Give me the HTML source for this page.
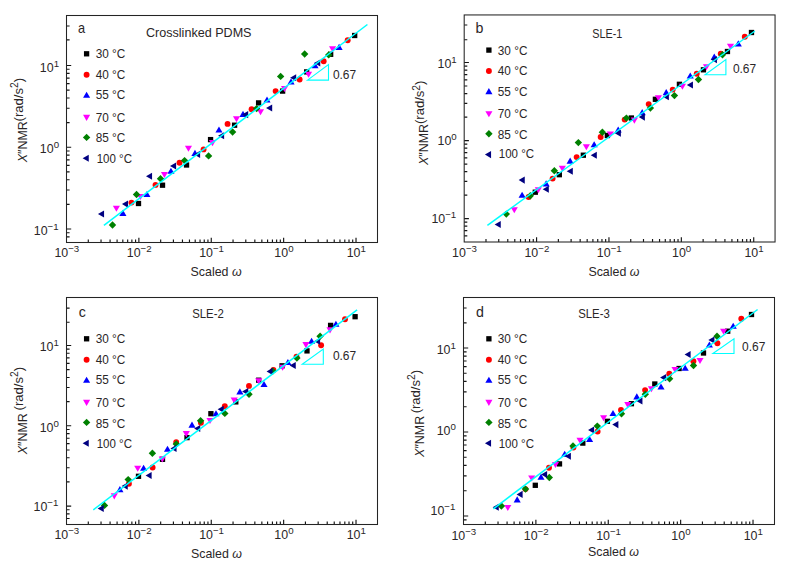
<!DOCTYPE html>
<html lang="en"><head><meta charset="utf-8"><title>Figure</title>
<style>
html,body{margin:0;padding:0;background:#fff}
svg{display:block}
text{font-family:"Liberation Sans", sans-serif;fill:#2a2627}
.t{font-size:12.8px}
.tk{font-size:12.4px}
.sp{font-size:9.7px}
.sp2{font-size:10px}
.pl{font-size:14.2px}
.it{font-style:italic}
.frame{fill:none;stroke:#242424;stroke-width:1.05}
.tick{fill:none;stroke:#151515;stroke-width:1.15}
.fit{fill:none;stroke:#00ffff;stroke-width:1.5}
.tri{fill:none;stroke:#00ffff;stroke-width:1.1}
</style></head><body>
<svg width="794" height="564" viewBox="0 0 794 564">
<rect width="794" height="564" fill="#fff"/>
<g id="panel-a">
<path class="tick" d="M88.29 242.5v-3.1M101.03 242.5v-3.1M110.08 242.5v-3.1M117.09 242.5v-3.1M122.82 242.5v-3.1M127.67 242.5v-3.1M131.87 242.5v-3.1M135.57 242.5v-3.1M138.88 242.5v-4.7M160.67 242.5v-3.1M173.41 242.5v-3.1M182.46 242.5v-3.1M189.47 242.5v-3.1M195.2 242.5v-3.1M200.05 242.5v-3.1M204.25 242.5v-3.1M207.95 242.5v-3.1M211.26 242.5v-4.7M233.05 242.5v-3.1M245.79 242.5v-3.1M254.84 242.5v-3.1M261.85 242.5v-3.1M267.58 242.5v-3.1M272.43 242.5v-3.1M276.63 242.5v-3.1M280.33 242.5v-3.1M283.64 242.5v-4.7M305.43 242.5v-3.1M318.17 242.5v-3.1M327.22 242.5v-3.1M334.23 242.5v-3.1M339.96 242.5v-3.1M344.81 242.5v-3.1M349.01 242.5v-3.1M352.71 242.5v-3.1M356.02 242.5v-4.7M66.5 236.92h3.1M66.5 232.74h3.1M66.5 229h4.7M66.5 204.39h3.1M66.5 190h3.1M66.5 179.78h3.1M66.5 171.86h3.1M66.5 165.39h3.1M66.5 159.91h3.1M66.5 155.17h3.1M66.5 150.99h3.1M66.5 147.25h4.7M66.5 122.64h3.1M66.5 108.25h3.1M66.5 98.03h3.1M66.5 90.11h3.1M66.5 83.64h3.1M66.5 78.16h3.1M66.5 73.42h3.1M66.5 69.24h3.1M66.5 65.5h4.7M66.5 39.9h3.1M66.5 26h3.1"/>
<rect x="135.85" y="200.85" width="5.3" height="5.3" fill="#000000"/>
<rect x="159.87" y="182.55" width="5.3" height="5.3" fill="#000000"/>
<rect x="183.89" y="162.35" width="5.3" height="5.3" fill="#000000"/>
<rect x="207.91" y="136.95" width="5.3" height="5.3" fill="#000000"/>
<rect x="231.93" y="122.55" width="5.3" height="5.3" fill="#000000"/>
<rect x="255.95" y="100.25" width="5.3" height="5.3" fill="#000000"/>
<rect x="279.97" y="88.45" width="5.3" height="5.3" fill="#000000"/>
<rect x="303.99" y="69.25" width="5.3" height="5.3" fill="#000000"/>
<rect x="328.01" y="51.65" width="5.3" height="5.3" fill="#000000"/>
<rect x="352.03" y="32.85" width="5.3" height="5.3" fill="#000000"/>
<circle cx="131.5" cy="202.6" r="2.95" fill="#ff0000"/>
<circle cx="155.52" cy="184.9" r="2.95" fill="#ff0000"/>
<circle cx="179.54" cy="162.7" r="2.95" fill="#ff0000"/>
<circle cx="203.56" cy="149.4" r="2.95" fill="#ff0000"/>
<circle cx="227.58" cy="123.9" r="2.95" fill="#ff0000"/>
<circle cx="251.6" cy="109.3" r="2.95" fill="#ff0000"/>
<circle cx="275.62" cy="91.1" r="2.95" fill="#ff0000"/>
<circle cx="299.64" cy="79.5" r="2.95" fill="#ff0000"/>
<circle cx="323.66" cy="61.3" r="2.95" fill="#ff0000"/>
<circle cx="347.68" cy="40.3" r="2.95" fill="#ff0000"/>
<path d="M122.9 209.85l3.55 6.1h-7.1z" fill="#0000ff"/>
<path d="M146.92 190.95l3.55 6.1h-7.1z" fill="#0000ff"/>
<path d="M170.94 167.75l3.55 6.1h-7.1z" fill="#0000ff"/>
<path d="M194.96 149.85l3.55 6.1h-7.1z" fill="#0000ff"/>
<path d="M218.98 126.45l3.55 6.1h-7.1z" fill="#0000ff"/>
<path d="M243 110.85l3.55 6.1h-7.1z" fill="#0000ff"/>
<path d="M267.02 96.45l3.55 6.1h-7.1z" fill="#0000ff"/>
<path d="M291.04 78.35l3.55 6.1h-7.1z" fill="#0000ff"/>
<path d="M315.06 62.25l3.55 6.1h-7.1z" fill="#0000ff"/>
<path d="M339.08 43.85l3.55 6.1h-7.1z" fill="#0000ff"/>
<path d="M116.4 211.85l3.55 -6.1h-7.1z" fill="#ff00ff"/>
<path d="M140.42 200.05l3.55 -6.1h-7.1z" fill="#ff00ff"/>
<path d="M164.44 178.05l3.55 -6.1h-7.1z" fill="#ff00ff"/>
<path d="M188.46 151.85l3.55 -6.1h-7.1z" fill="#ff00ff"/>
<path d="M212.48 146.15l3.55 -6.1h-7.1z" fill="#ff00ff"/>
<path d="M236.5 122.35l3.55 -6.1h-7.1z" fill="#ff00ff"/>
<path d="M260.52 115.25l3.55 -6.1h-7.1z" fill="#ff00ff"/>
<path d="M284.54 92.05l3.55 -6.1h-7.1z" fill="#ff00ff"/>
<path d="M308.56 77.85l3.55 -6.1h-7.1z" fill="#ff00ff"/>
<path d="M332.58 52.45l3.55 -6.1h-7.1z" fill="#ff00ff"/>
<path d="M112.5 221.3l3.7 3.7l-3.7 3.7l-3.7 -3.7z" fill="#008000"/>
<path d="M136.52 190.8l3.7 3.7l-3.7 3.7l-3.7 -3.7z" fill="#008000"/>
<path d="M160.54 175.1l3.7 3.7l-3.7 3.7l-3.7 -3.7z" fill="#008000"/>
<path d="M184.56 156.9l3.7 3.7l-3.7 3.7l-3.7 -3.7z" fill="#008000"/>
<path d="M208.58 152.2l3.7 3.7l-3.7 3.7l-3.7 -3.7z" fill="#008000"/>
<path d="M232.6 128.3l3.7 3.7l-3.7 3.7l-3.7 -3.7z" fill="#008000"/>
<path d="M256.62 104.9l3.7 3.7l-3.7 3.7l-3.7 -3.7z" fill="#008000"/>
<path d="M280.64 72.7l3.7 3.7l-3.7 3.7l-3.7 -3.7z" fill="#008000"/>
<path d="M304.66 50.3l3.7 3.7l-3.7 3.7l-3.7 -3.7z" fill="#008000"/>
<path d="M328.68 51.2l3.7 3.7l-3.7 3.7l-3.7 -3.7z" fill="#008000"/>
<path d="M97.95 214l6.1 -3.55v7.1z" fill="#000080"/>
<path d="M121.97 204.1l6.1 -3.55v7.1z" fill="#000080"/>
<path d="M145.99 176.3l6.1 -3.55v7.1z" fill="#000080"/>
<path d="M170.01 166l6.1 -3.55v7.1z" fill="#000080"/>
<path d="M194.03 154.4l6.1 -3.55v7.1z" fill="#000080"/>
<path d="M218.05 135.8l6.1 -3.55v7.1z" fill="#000080"/>
<path d="M242.07 114.6l6.1 -3.55v7.1z" fill="#000080"/>
<path d="M266.09 108l6.1 -3.55v7.1z" fill="#000080"/>
<path d="M290.11 77.8l6.1 -3.55v7.1z" fill="#000080"/>
<path d="M314.13 63l6.1 -3.55v7.1z" fill="#000080"/>
<path class="fit" d="M103.9 225.4L367.4 24.5"/>
<path class="tri" d="M307.5 80.1H328.5V64.6Z"/>
<text x="332.9" y="79" class="t" textLength="23.3" lengthAdjust="spacingAndGlyphs">0.67</text>
<rect class="frame" x="66.5" y="15.5" width="311" height="227"/>
<text x="66.8" y="257" text-anchor="middle" class="tk">10<tspan class="sp" dy="-5.0">−3</tspan></text>
<text x="139.18" y="257" text-anchor="middle" class="tk">10<tspan class="sp" dy="-5.0">−2</tspan></text>
<text x="211.56" y="257" text-anchor="middle" class="tk">10<tspan class="sp" dy="-5.0">−1</tspan></text>
<text x="283.94" y="257" text-anchor="middle" class="tk">10<tspan class="sp" dy="-5.0">0</tspan></text>
<text x="356.32" y="257" text-anchor="middle" class="tk">10<tspan class="sp" dy="-5.0">1</tspan></text>
<text x="39.85" y="71.5" text-anchor="start" class="tk">10<tspan class="sp" dy="-5.0">1</tspan></text>
<text x="39.85" y="152.7" text-anchor="start" class="tk">10<tspan class="sp" dy="-5.0">0</tspan></text>
<text x="33.75" y="235.2" text-anchor="start" class="tk">10<tspan class="sp" dy="-5.0">−1</tspan></text>
<text x="78" y="33.2" class="pl" textLength="7.1" lengthAdjust="spacingAndGlyphs">a</text>
<text x="146" y="37.1" class="t" textLength="105.5" lengthAdjust="spacingAndGlyphs">Crosslinked PDMS</text>
<rect x="83.95" y="51.15" width="5.3" height="5.3" fill="#000000"/>
<text x="95.7" y="58.1" class="t" textLength="29.6" lengthAdjust="spacingAndGlyphs">30 °C</text>
<circle cx="86.6" cy="74.7" r="2.95" fill="#ff0000"/>
<text x="95.7" y="79.3" class="t" textLength="29.6" lengthAdjust="spacingAndGlyphs">40 °C</text>
<path d="M86.6 91.75l3.55 6.1h-7.1z" fill="#0000ff"/>
<text x="95.7" y="99.4" class="t" textLength="29.6" lengthAdjust="spacingAndGlyphs">55 °C</text>
<path d="M86.6 120.95l3.55 -6.1h-7.1z" fill="#ff00ff"/>
<text x="95.7" y="121.6" class="t" textLength="29.6" lengthAdjust="spacingAndGlyphs">70 °C</text>
<path d="M86.6 133.7l3.7 3.7l-3.7 3.7l-3.7 -3.7z" fill="#008000"/>
<text x="95.7" y="142.3" class="t" textLength="29.6" lengthAdjust="spacingAndGlyphs">85 °C</text>
<path d="M82.65 158.3l6.1 -3.55v7.1z" fill="#000080"/>
<text x="96.7" y="163.1" class="t" textLength="35.3" lengthAdjust="spacingAndGlyphs">100 °C</text>
<text x="190.6" y="276.2" class="t" textLength="51" lengthAdjust="spacingAndGlyphs">Scaled <tspan class="it">ω</tspan></text>
<text transform="translate(26.5 162.3) rotate(-90)" class="t" textLength="41.15" lengthAdjust="spacingAndGlyphs"><tspan class="it">X</tspan>″NMR</text>
<text transform="translate(22.7 121.4) rotate(-90)" class="t" textLength="43.4" lengthAdjust="spacingAndGlyphs">(rad/s<tspan class="sp2" dy="-4.3">2</tspan><tspan dy="4.3">)</tspan></text>
</g>
<g id="panel-b">
<path class="tick" d="M485.99 242v-3.1M498.73 242v-3.1M507.78 242v-3.1M514.79 242v-3.1M520.52 242v-3.1M525.37 242v-3.1M529.57 242v-3.1M533.27 242v-3.1M536.58 242v-4.7M558.37 242v-3.1M571.11 242v-3.1M580.16 242v-3.1M587.17 242v-3.1M592.9 242v-3.1M597.75 242v-3.1M601.95 242v-3.1M605.65 242v-3.1M608.96 242v-4.7M630.75 242v-3.1M643.49 242v-3.1M652.54 242v-3.1M659.55 242v-3.1M665.28 242v-3.1M670.13 242v-3.1M674.33 242v-3.1M678.03 242v-3.1M681.34 242v-4.7M703.13 242v-3.1M715.87 242v-3.1M724.92 242v-3.1M731.93 242v-3.1M737.66 242v-3.1M742.51 242v-3.1M746.71 242v-3.1M750.41 242v-3.1M753.72 242v-4.7M464.2 235.92h3.1M464.2 230.69h3.1M464.2 226.16h3.1M464.2 222.17h3.1M464.2 218.6h4.7M464.2 195.1h3.1M464.2 181.36h3.1M464.2 171.61h3.1M464.2 164.05h3.1M464.2 157.87h3.1M464.2 152.64h3.1M464.2 148.11h3.1M464.2 144.12h3.1M464.2 140.55h4.7M464.2 117.05h3.1M464.2 103.31h3.1M464.2 93.56h3.1M464.2 86h3.1M464.2 79.82h3.1M464.2 74.59h3.1M464.2 70.06h3.1M464.2 66.07h3.1M464.2 62.5h4.7M464.2 39.75h3.1M464.2 25h3.1"/>
<rect x="532.65" y="189.55" width="5.3" height="5.3" fill="#000000"/>
<rect x="556.67" y="172.05" width="5.3" height="5.3" fill="#000000"/>
<rect x="580.69" y="152.55" width="5.3" height="5.3" fill="#000000"/>
<rect x="604.71" y="132.85" width="5.3" height="5.3" fill="#000000"/>
<rect x="628.73" y="115.35" width="5.3" height="5.3" fill="#000000"/>
<rect x="652.75" y="96.65" width="5.3" height="5.3" fill="#000000"/>
<rect x="676.77" y="81.65" width="5.3" height="5.3" fill="#000000"/>
<rect x="700.79" y="67.15" width="5.3" height="5.3" fill="#000000"/>
<rect x="724.81" y="48.85" width="5.3" height="5.3" fill="#000000"/>
<rect x="748.83" y="29.85" width="5.3" height="5.3" fill="#000000"/>
<circle cx="528.6" cy="197" r="2.95" fill="#ff0000"/>
<circle cx="552.62" cy="178.6" r="2.95" fill="#ff0000"/>
<circle cx="576.64" cy="157.1" r="2.95" fill="#ff0000"/>
<circle cx="600.66" cy="137" r="2.95" fill="#ff0000"/>
<circle cx="624.68" cy="119.6" r="2.95" fill="#ff0000"/>
<circle cx="648.7" cy="104.1" r="2.95" fill="#ff0000"/>
<circle cx="672.72" cy="89.6" r="2.95" fill="#ff0000"/>
<circle cx="696.74" cy="73.7" r="2.95" fill="#ff0000"/>
<circle cx="720.76" cy="53.8" r="2.95" fill="#ff0000"/>
<circle cx="744.78" cy="36.7" r="2.95" fill="#ff0000"/>
<path d="M522.1 191.75l3.55 6.1h-7.1z" fill="#0000ff"/>
<path d="M546.12 180.35l3.55 6.1h-7.1z" fill="#0000ff"/>
<path d="M570.14 157.55l3.55 6.1h-7.1z" fill="#0000ff"/>
<path d="M594.16 141.25l3.55 6.1h-7.1z" fill="#0000ff"/>
<path d="M618.18 126.45l3.55 6.1h-7.1z" fill="#0000ff"/>
<path d="M642.2 109.05l3.55 6.1h-7.1z" fill="#0000ff"/>
<path d="M666.22 89.05l3.55 6.1h-7.1z" fill="#0000ff"/>
<path d="M690.24 72.45l3.55 6.1h-7.1z" fill="#0000ff"/>
<path d="M714.26 53.55l3.55 6.1h-7.1z" fill="#0000ff"/>
<path d="M738.28 40.35l3.55 6.1h-7.1z" fill="#0000ff"/>
<path d="M514.3 213.25l3.55 -6.1h-7.1z" fill="#ff00ff"/>
<path d="M538.32 193.25l3.55 -6.1h-7.1z" fill="#ff00ff"/>
<path d="M562.34 171.85l3.55 -6.1h-7.1z" fill="#ff00ff"/>
<path d="M586.36 150.35l3.55 -6.1h-7.1z" fill="#ff00ff"/>
<path d="M610.38 137.55l3.55 -6.1h-7.1z" fill="#ff00ff"/>
<path d="M634.4 123.65l3.55 -6.1h-7.1z" fill="#ff00ff"/>
<path d="M658.42 101.25l3.55 -6.1h-7.1z" fill="#ff00ff"/>
<path d="M682.44 89.85l3.55 -6.1h-7.1z" fill="#ff00ff"/>
<path d="M706.46 70.25l3.55 -6.1h-7.1z" fill="#ff00ff"/>
<path d="M730.48 49.75l3.55 -6.1h-7.1z" fill="#ff00ff"/>
<path d="M506.3 210.4l3.7 3.7l-3.7 3.7l-3.7 -3.7z" fill="#008000"/>
<path d="M530.32 192.1l3.7 3.7l-3.7 3.7l-3.7 -3.7z" fill="#008000"/>
<path d="M554.34 167.1l3.7 3.7l-3.7 3.7l-3.7 -3.7z" fill="#008000"/>
<path d="M578.36 138.9l3.7 3.7l-3.7 3.7l-3.7 -3.7z" fill="#008000"/>
<path d="M602.38 128.5l3.7 3.7l-3.7 3.7l-3.7 -3.7z" fill="#008000"/>
<path d="M626.4 114.4l3.7 3.7l-3.7 3.7l-3.7 -3.7z" fill="#008000"/>
<path d="M650.42 104.4l3.7 3.7l-3.7 3.7l-3.7 -3.7z" fill="#008000"/>
<path d="M674.44 91.9l3.7 3.7l-3.7 3.7l-3.7 -3.7z" fill="#008000"/>
<path d="M698.46 75.8l3.7 3.7l-3.7 3.7l-3.7 -3.7z" fill="#008000"/>
<path d="M722.48 51.1l3.7 3.7l-3.7 3.7l-3.7 -3.7z" fill="#008000"/>
<path d="M494.65 224.5l6.1 -3.55v7.1z" fill="#000080"/>
<path d="M518.67 180.1l6.1 -3.55v7.1z" fill="#000080"/>
<path d="M542.69 189.2l6.1 -3.55v7.1z" fill="#000080"/>
<path d="M566.71 171.3l6.1 -3.55v7.1z" fill="#000080"/>
<path d="M590.73 155.2l6.1 -3.55v7.1z" fill="#000080"/>
<path d="M614.75 133.2l6.1 -3.55v7.1z" fill="#000080"/>
<path d="M638.77 117.1l6.1 -3.55v7.1z" fill="#000080"/>
<path d="M662.79 96.7l6.1 -3.55v7.1z" fill="#000080"/>
<path d="M686.81 85l6.1 -3.55v7.1z" fill="#000080"/>
<path d="M710.83 59.6l6.1 -3.55v7.1z" fill="#000080"/>
<path class="fit" d="M487.4 225.4L754.9 31"/>
<path class="tri" d="M705 74.7H725.9V59.5Z"/>
<text x="732.9" y="72.5" class="t" textLength="23.3" lengthAdjust="spacingAndGlyphs">0.67</text>
<rect class="frame" x="464.2" y="14.95" width="310.85" height="227.05"/>
<text x="464.5" y="257" text-anchor="middle" class="tk">10<tspan class="sp" dy="-5.0">−3</tspan></text>
<text x="536.88" y="257" text-anchor="middle" class="tk">10<tspan class="sp" dy="-5.0">−2</tspan></text>
<text x="609.26" y="257" text-anchor="middle" class="tk">10<tspan class="sp" dy="-5.0">−1</tspan></text>
<text x="681.64" y="257" text-anchor="middle" class="tk">10<tspan class="sp" dy="-5.0">0</tspan></text>
<text x="754.02" y="257" text-anchor="middle" class="tk">10<tspan class="sp" dy="-5.0">1</tspan></text>
<text x="437.5" y="67.5" text-anchor="start" class="tk">10<tspan class="sp" dy="-5.0">1</tspan></text>
<text x="437.5" y="145.35" text-anchor="start" class="tk">10<tspan class="sp" dy="-5.0">0</tspan></text>
<text x="431.4" y="223.2" text-anchor="start" class="tk">10<tspan class="sp" dy="-5.0">−1</tspan></text>
<text x="475.5" y="32.7" class="pl">b</text>
<text x="592.2" y="37.7" class="t" textLength="30.1" lengthAdjust="spacingAndGlyphs">SLE-1</text>
<rect x="486.25" y="47.45" width="5.3" height="5.3" fill="#000000"/>
<text x="497.8" y="54.6" class="t" textLength="29.6" lengthAdjust="spacingAndGlyphs">30 °C</text>
<circle cx="488.9" cy="71" r="2.95" fill="#ff0000"/>
<text x="497.8" y="75.4" class="t" textLength="29.6" lengthAdjust="spacingAndGlyphs">40 °C</text>
<path d="M488.9 88.05l3.55 6.1h-7.1z" fill="#0000ff"/>
<text x="497.8" y="96.1" class="t" textLength="29.6" lengthAdjust="spacingAndGlyphs">55 °C</text>
<path d="M488.9 117.25l3.55 -6.1h-7.1z" fill="#ff00ff"/>
<text x="497.8" y="118.2" class="t" textLength="29.6" lengthAdjust="spacingAndGlyphs">70 °C</text>
<path d="M488.9 130l3.7 3.7l-3.7 3.7l-3.7 -3.7z" fill="#008000"/>
<text x="497.8" y="139.4" class="t" textLength="29.6" lengthAdjust="spacingAndGlyphs">85 °C</text>
<path d="M484.95 154.6l6.1 -3.55v7.1z" fill="#000080"/>
<text x="498.8" y="157.6" class="t" textLength="35.3" lengthAdjust="spacingAndGlyphs">100 °C</text>
<text x="588.4" y="276" class="t" textLength="51" lengthAdjust="spacingAndGlyphs">Scaled <tspan class="it">ω</tspan></text>
<text transform="translate(427.5 165.1) rotate(-90)" class="t" textLength="41.15" lengthAdjust="spacingAndGlyphs"><tspan class="it">X</tspan>″NMR</text>
<text transform="translate(423.8 124) rotate(-90)" class="t" textLength="43.4" lengthAdjust="spacingAndGlyphs">(rad/s<tspan class="sp2" dy="-4.3">2</tspan><tspan dy="4.3">)</tspan></text>
</g>
<g id="panel-c">
<path class="tick" d="M88.29 524.5v-3.1M101.03 524.5v-3.1M110.08 524.5v-3.1M117.09 524.5v-3.1M122.82 524.5v-3.1M127.67 524.5v-3.1M131.87 524.5v-3.1M135.57 524.5v-3.1M138.88 524.5v-4.7M160.67 524.5v-3.1M173.41 524.5v-3.1M182.46 524.5v-3.1M189.47 524.5v-3.1M195.2 524.5v-3.1M200.05 524.5v-3.1M204.25 524.5v-3.1M207.95 524.5v-3.1M211.26 524.5v-4.7M233.05 524.5v-3.1M245.79 524.5v-3.1M254.84 524.5v-3.1M261.85 524.5v-3.1M267.58 524.5v-3.1M272.43 524.5v-3.1M276.63 524.5v-3.1M280.33 524.5v-3.1M283.64 524.5v-4.7M305.43 524.5v-3.1M318.17 524.5v-3.1M327.22 524.5v-3.1M334.23 524.5v-3.1M339.96 524.5v-3.1M344.81 524.5v-3.1M349.01 524.5v-3.1M352.71 524.5v-3.1M356.02 524.5v-4.7M66.5 518.5h3.1M66.5 513.84h3.1M66.5 509.73h3.1M66.5 506.06h4.7M66.5 481.89h3.1M66.5 467.76h3.1M66.5 457.73h3.1M66.5 449.95h3.1M66.5 443.59h3.1M66.5 438.22h3.1M66.5 433.56h3.1M66.5 429.45h3.1M66.5 425.78h4.7M66.5 401.61h3.1M66.5 387.48h3.1M66.5 377.45h3.1M66.5 369.67h3.1M66.5 363.31h3.1M66.5 357.94h3.1M66.5 353.28h3.1M66.5 349.17h3.1M66.5 345.5h4.7M66.5 322.2h3.1M66.5 308.1h3.1"/>
<rect x="135.85" y="473.65" width="5.3" height="5.3" fill="#000000"/>
<rect x="159.85" y="456.65" width="5.3" height="5.3" fill="#000000"/>
<rect x="184.35" y="434.95" width="5.3" height="5.3" fill="#000000"/>
<rect x="208.25" y="411.05" width="5.3" height="5.3" fill="#000000"/>
<rect x="233.15" y="399.25" width="5.3" height="5.3" fill="#000000"/>
<rect x="256.05" y="377.55" width="5.3" height="5.3" fill="#000000"/>
<rect x="279.45" y="363.15" width="5.3" height="5.3" fill="#000000"/>
<rect x="304.35" y="348.25" width="5.3" height="5.3" fill="#000000"/>
<rect x="327.95" y="322.75" width="5.3" height="5.3" fill="#000000"/>
<rect x="352.45" y="314.05" width="5.3" height="5.3" fill="#000000"/>
<circle cx="128.9" cy="483.8" r="2.95" fill="#ff0000"/>
<circle cx="152.6" cy="467.5" r="2.95" fill="#ff0000"/>
<circle cx="176.2" cy="442.1" r="2.95" fill="#ff0000"/>
<circle cx="200.9" cy="422.8" r="2.95" fill="#ff0000"/>
<circle cx="224.8" cy="406.2" r="2.95" fill="#ff0000"/>
<circle cx="249" cy="385.9" r="2.95" fill="#ff0000"/>
<circle cx="273.4" cy="369.9" r="2.95" fill="#ff0000"/>
<circle cx="296.5" cy="356.7" r="2.95" fill="#ff0000"/>
<circle cx="321.1" cy="345.3" r="2.95" fill="#ff0000"/>
<circle cx="345" cy="319.3" r="2.95" fill="#ff0000"/>
<path d="M119.9 486.05l3.55 6.1h-7.1z" fill="#0000ff"/>
<path d="M143.6 464.65l3.55 6.1h-7.1z" fill="#0000ff"/>
<path d="M167.5 445.65l3.55 6.1h-7.1z" fill="#0000ff"/>
<path d="M192 421.55l3.55 6.1h-7.1z" fill="#0000ff"/>
<path d="M216 410.25l3.55 6.1h-7.1z" fill="#0000ff"/>
<path d="M239.9 388.35l3.55 6.1h-7.1z" fill="#0000ff"/>
<path d="M264 380.95l3.55 6.1h-7.1z" fill="#0000ff"/>
<path d="M287.9 358.95l3.55 6.1h-7.1z" fill="#0000ff"/>
<path d="M311.6 337.75l3.55 6.1h-7.1z" fill="#0000ff"/>
<path d="M335.9 320.75l3.55 6.1h-7.1z" fill="#0000ff"/>
<path d="M114.3 499.45l3.55 -6.1h-7.1z" fill="#ff00ff"/>
<path d="M137.7 471.75l3.55 -6.1h-7.1z" fill="#ff00ff"/>
<path d="M162.3 462.55l3.55 -6.1h-7.1z" fill="#ff00ff"/>
<path d="M186.3 437.15l3.55 -6.1h-7.1z" fill="#ff00ff"/>
<path d="M210 424.05l3.55 -6.1h-7.1z" fill="#ff00ff"/>
<path d="M234.2 403.65l3.55 -6.1h-7.1z" fill="#ff00ff"/>
<path d="M258.7 384.45l3.55 -6.1h-7.1z" fill="#ff00ff"/>
<path d="M282.6 370.85l3.55 -6.1h-7.1z" fill="#ff00ff"/>
<path d="M305.9 348.15l3.55 -6.1h-7.1z" fill="#ff00ff"/>
<path d="M330 333.45l3.55 -6.1h-7.1z" fill="#ff00ff"/>
<path d="M104.5 501.7l3.7 3.7l-3.7 3.7l-3.7 -3.7z" fill="#008000"/>
<path d="M128.2 475.9l3.7 3.7l-3.7 3.7l-3.7 -3.7z" fill="#008000"/>
<path d="M152.4 449.6l3.7 3.7l-3.7 3.7l-3.7 -3.7z" fill="#008000"/>
<path d="M176.3 440.3l3.7 3.7l-3.7 3.7l-3.7 -3.7z" fill="#008000"/>
<path d="M200.6 417.1l3.7 3.7l-3.7 3.7l-3.7 -3.7z" fill="#008000"/>
<path d="M224.8 409.7l3.7 3.7l-3.7 3.7l-3.7 -3.7z" fill="#008000"/>
<path d="M249 390.6l3.7 3.7l-3.7 3.7l-3.7 -3.7z" fill="#008000"/>
<path d="M272.8 367.4l3.7 3.7l-3.7 3.7l-3.7 -3.7z" fill="#008000"/>
<path d="M296.9 354.3l3.7 3.7l-3.7 3.7l-3.7 -3.7z" fill="#008000"/>
<path d="M320.1 332.6l3.7 3.7l-3.7 3.7l-3.7 -3.7z" fill="#008000"/>
<path d="M97.65 508.5l6.1 -3.55v7.1z" fill="#000080"/>
<path d="M121.65 486.1l6.1 -3.55v7.1z" fill="#000080"/>
<path d="M145.55 475.5l6.1 -3.55v7.1z" fill="#000080"/>
<path d="M170.45 448.4l6.1 -3.55v7.1z" fill="#000080"/>
<path d="M194.15 428.5l6.1 -3.55v7.1z" fill="#000080"/>
<path d="M217.65 409.2l6.1 -3.55v7.1z" fill="#000080"/>
<path d="M242.15 391.6l6.1 -3.55v7.1z" fill="#000080"/>
<path d="M266.55 371.4l6.1 -3.55v7.1z" fill="#000080"/>
<path d="M289.65 365.5l6.1 -3.55v7.1z" fill="#000080"/>
<path d="M314.05 341.2l6.1 -3.55v7.1z" fill="#000080"/>
<path class="fit" d="M93.3 509.8L357.1 309.9"/>
<path class="tri" d="M302.2 364.3H323.3V349Z"/>
<text x="332.9" y="360.1" class="t" textLength="23.3" lengthAdjust="spacingAndGlyphs">0.67</text>
<rect class="frame" x="66.5" y="297.5" width="311" height="227"/>
<text x="66.8" y="539.1" text-anchor="middle" class="tk">10<tspan class="sp" dy="-5.0">−3</tspan></text>
<text x="139.18" y="539.1" text-anchor="middle" class="tk">10<tspan class="sp" dy="-5.0">−2</tspan></text>
<text x="211.56" y="539.1" text-anchor="middle" class="tk">10<tspan class="sp" dy="-5.0">−1</tspan></text>
<text x="283.94" y="539.1" text-anchor="middle" class="tk">10<tspan class="sp" dy="-5.0">0</tspan></text>
<text x="356.32" y="539.1" text-anchor="middle" class="tk">10<tspan class="sp" dy="-5.0">1</tspan></text>
<text x="39.65" y="351" text-anchor="start" class="tk">10<tspan class="sp" dy="-5.0">1</tspan></text>
<text x="39.65" y="431.6" text-anchor="start" class="tk">10<tspan class="sp" dy="-5.0">0</tspan></text>
<text x="33.55" y="511.4" text-anchor="start" class="tk">10<tspan class="sp" dy="-5.0">−1</tspan></text>
<text x="78.8" y="316.9" class="pl">c</text>
<text x="192.2" y="318.2" class="t" textLength="31.6" lengthAdjust="spacingAndGlyphs">SLE-2</text>
<rect x="83.95" y="336.15" width="5.3" height="5.3" fill="#000000"/>
<text x="95.7" y="343.1" class="t" textLength="29.6" lengthAdjust="spacingAndGlyphs">30 °C</text>
<circle cx="86.6" cy="359.7" r="2.95" fill="#ff0000"/>
<text x="95.7" y="364.3" class="t" textLength="29.6" lengthAdjust="spacingAndGlyphs">40 °C</text>
<path d="M86.6 376.75l3.55 6.1h-7.1z" fill="#0000ff"/>
<text x="95.7" y="384.4" class="t" textLength="29.6" lengthAdjust="spacingAndGlyphs">55 °C</text>
<path d="M86.6 405.95l3.55 -6.1h-7.1z" fill="#ff00ff"/>
<text x="95.7" y="407" class="t" textLength="29.6" lengthAdjust="spacingAndGlyphs">70 °C</text>
<path d="M86.6 418.7l3.7 3.7l-3.7 3.7l-3.7 -3.7z" fill="#008000"/>
<text x="95.7" y="427.6" class="t" textLength="29.6" lengthAdjust="spacingAndGlyphs">85 °C</text>
<path d="M82.65 443.3l6.1 -3.55v7.1z" fill="#000080"/>
<text x="96.7" y="447.9" class="t" textLength="35.3" lengthAdjust="spacingAndGlyphs">100 °C</text>
<text x="191" y="557.5" class="t" textLength="51" lengthAdjust="spacingAndGlyphs">Scaled <tspan class="it">ω</tspan></text>
<text transform="translate(26.6 454.3) rotate(-90)" class="t" textLength="41.15" lengthAdjust="spacingAndGlyphs"><tspan class="it">X</tspan>″NMR</text>
<text transform="translate(22.7 410.4) rotate(-90)" class="t" textLength="43.4" lengthAdjust="spacingAndGlyphs">(rad/s<tspan class="sp2" dy="-4.3">2</tspan><tspan dy="4.3">)</tspan></text>
</g>
<g id="panel-d">
<path class="tick" d="M485.29 524.5v-3.1M498.03 524.5v-3.1M507.08 524.5v-3.1M514.09 524.5v-3.1M519.82 524.5v-3.1M524.67 524.5v-3.1M528.87 524.5v-3.1M532.57 524.5v-3.1M535.88 524.5v-4.7M557.67 524.5v-3.1M570.41 524.5v-3.1M579.46 524.5v-3.1M586.47 524.5v-3.1M592.2 524.5v-3.1M597.05 524.5v-3.1M601.25 524.5v-3.1M604.95 524.5v-3.1M608.26 524.5v-4.7M630.05 524.5v-3.1M642.79 524.5v-3.1M651.84 524.5v-3.1M658.85 524.5v-3.1M664.58 524.5v-3.1M669.43 524.5v-3.1M673.63 524.5v-3.1M677.33 524.5v-3.1M680.64 524.5v-4.7M702.43 524.5v-3.1M715.17 524.5v-3.1M724.22 524.5v-3.1M731.23 524.5v-3.1M736.96 524.5v-3.1M741.81 524.5v-3.1M746.01 524.5v-3.1M749.71 524.5v-3.1M753.02 524.5v-4.7M463.5 519.84h3.1M463.5 516h4.7M463.5 490.71h3.1M463.5 475.92h3.1M463.5 465.43h3.1M463.5 457.29h3.1M463.5 450.64h3.1M463.5 445.01h3.1M463.5 440.14h3.1M463.5 435.84h3.1M463.5 432h4.7M463.5 406.71h3.1M463.5 391.92h3.1M463.5 381.43h3.1M463.5 373.29h3.1M463.5 366.64h3.1M463.5 361.01h3.1M463.5 356.14h3.1M463.5 351.84h3.1M463.5 348h4.7M463.5 322.8h3.1M463.5 308h3.1"/>
<rect x="532.65" y="482.65" width="5.3" height="5.3" fill="#000000"/>
<rect x="556.85" y="461.25" width="5.3" height="5.3" fill="#000000"/>
<rect x="580.15" y="440.45" width="5.3" height="5.3" fill="#000000"/>
<rect x="604.75" y="418.65" width="5.3" height="5.3" fill="#000000"/>
<rect x="628.75" y="401.05" width="5.3" height="5.3" fill="#000000"/>
<rect x="652.15" y="381.35" width="5.3" height="5.3" fill="#000000"/>
<rect x="676.45" y="365.85" width="5.3" height="5.3" fill="#000000"/>
<rect x="700.85" y="350.35" width="5.3" height="5.3" fill="#000000"/>
<rect x="725.05" y="328.55" width="5.3" height="5.3" fill="#000000"/>
<rect x="748.85" y="311.85" width="5.3" height="5.3" fill="#000000"/>
<circle cx="525.5" cy="489.1" r="2.95" fill="#ff0000"/>
<circle cx="549" cy="467.7" r="2.95" fill="#ff0000"/>
<circle cx="573.4" cy="447.6" r="2.95" fill="#ff0000"/>
<circle cx="597.6" cy="431.5" r="2.95" fill="#ff0000"/>
<circle cx="621" cy="409.9" r="2.95" fill="#ff0000"/>
<circle cx="645.1" cy="390.1" r="2.95" fill="#ff0000"/>
<circle cx="669.3" cy="373.7" r="2.95" fill="#ff0000"/>
<circle cx="693.4" cy="361.3" r="2.95" fill="#ff0000"/>
<circle cx="717.4" cy="343.3" r="2.95" fill="#ff0000"/>
<circle cx="741.3" cy="318.7" r="2.95" fill="#ff0000"/>
<path d="M517.2 496.35l3.55 6.1h-7.1z" fill="#0000ff"/>
<path d="M541 473.65l3.55 6.1h-7.1z" fill="#0000ff"/>
<path d="M564.7 450.75l3.55 6.1h-7.1z" fill="#0000ff"/>
<path d="M589.6 435.95l3.55 6.1h-7.1z" fill="#0000ff"/>
<path d="M613 409.95l3.55 6.1h-7.1z" fill="#0000ff"/>
<path d="M636.8 393.35l3.55 6.1h-7.1z" fill="#0000ff"/>
<path d="M661 383.45l3.55 6.1h-7.1z" fill="#0000ff"/>
<path d="M685.2 364.75l3.55 6.1h-7.1z" fill="#0000ff"/>
<path d="M709.4 341.45l3.55 6.1h-7.1z" fill="#0000ff"/>
<path d="M733.2 322.75l3.55 6.1h-7.1z" fill="#0000ff"/>
<path d="M507.8 511.05l3.55 -6.1h-7.1z" fill="#ff00ff"/>
<path d="M531.7 481.55l3.55 -6.1h-7.1z" fill="#ff00ff"/>
<path d="M555.5 468.05l3.55 -6.1h-7.1z" fill="#ff00ff"/>
<path d="M580 443.75l3.55 -6.1h-7.1z" fill="#ff00ff"/>
<path d="M603.6 421.25l3.55 -6.1h-7.1z" fill="#ff00ff"/>
<path d="M627.8 408.15l3.55 -6.1h-7.1z" fill="#ff00ff"/>
<path d="M651.4 392.25l3.55 -6.1h-7.1z" fill="#ff00ff"/>
<path d="M675 373.05l3.55 -6.1h-7.1z" fill="#ff00ff"/>
<path d="M700 364.05l3.55 -6.1h-7.1z" fill="#ff00ff"/>
<path d="M723.6 334.75l3.55 -6.1h-7.1z" fill="#ff00ff"/>
<path d="M501.4 502.3l3.7 3.7l-3.7 3.7l-3.7 -3.7z" fill="#008000"/>
<path d="M525.5 485.4l3.7 3.7l-3.7 3.7l-3.7 -3.7z" fill="#008000"/>
<path d="M549.3 473.8l3.7 3.7l-3.7 3.7l-3.7 -3.7z" fill="#008000"/>
<path d="M573 442.2l3.7 3.7l-3.7 3.7l-3.7 -3.7z" fill="#008000"/>
<path d="M597.3 422.4l3.7 3.7l-3.7 3.7l-3.7 -3.7z" fill="#008000"/>
<path d="M621.5 410l3.7 3.7l-3.7 3.7l-3.7 -3.7z" fill="#008000"/>
<path d="M645.3 390.6l3.7 3.7l-3.7 3.7l-3.7 -3.7z" fill="#008000"/>
<path d="M669.6 375l3.7 3.7l-3.7 3.7l-3.7 -3.7z" fill="#008000"/>
<path d="M693.5 361.8l3.7 3.7l-3.7 3.7l-3.7 -3.7z" fill="#008000"/>
<path d="M717 332.5l3.7 3.7l-3.7 3.7l-3.7 -3.7z" fill="#008000"/>
<path d="M492.65 507.3l6.1 -3.55v7.1z" fill="#000080"/>
<path d="M516.55 494.4l6.1 -3.55v7.1z" fill="#000080"/>
<path d="M541.05 474.5l6.1 -3.55v7.1z" fill="#000080"/>
<path d="M564.75 456.3l6.1 -3.55v7.1z" fill="#000080"/>
<path d="M588.05 430l6.1 -3.55v7.1z" fill="#000080"/>
<path d="M612.25 424.6l6.1 -3.55v7.1z" fill="#000080"/>
<path d="M636.35 401l6.1 -3.55v7.1z" fill="#000080"/>
<path d="M660.15 377.6l6.1 -3.55v7.1z" fill="#000080"/>
<path d="M684.55 354.5l6.1 -3.55v7.1z" fill="#000080"/>
<path d="M708.35 340l6.1 -3.55v7.1z" fill="#000080"/>
<path class="fit" d="M493.4 508.8L757.6 309.5"/>
<path class="tri" d="M712.9 353.5H734V338.8Z"/>
<text x="742" y="351.3" class="t" textLength="23.3" lengthAdjust="spacingAndGlyphs">0.67</text>
<rect class="frame" x="463.5" y="297.5" width="311" height="227"/>
<text x="463.8" y="540.3" text-anchor="middle" class="tk">10<tspan class="sp" dy="-5.0">−3</tspan></text>
<text x="536.18" y="540.3" text-anchor="middle" class="tk">10<tspan class="sp" dy="-5.0">−2</tspan></text>
<text x="608.56" y="540.3" text-anchor="middle" class="tk">10<tspan class="sp" dy="-5.0">−1</tspan></text>
<text x="680.94" y="540.3" text-anchor="middle" class="tk">10<tspan class="sp" dy="-5.0">0</tspan></text>
<text x="753.32" y="540.3" text-anchor="middle" class="tk">10<tspan class="sp" dy="-5.0">1</tspan></text>
<text x="436.65" y="353.9" text-anchor="start" class="tk">10<tspan class="sp" dy="-5.0">1</tspan></text>
<text x="436.65" y="434.5" text-anchor="start" class="tk">10<tspan class="sp" dy="-5.0">0</tspan></text>
<text x="430.55" y="514.5" text-anchor="start" class="tk">10<tspan class="sp" dy="-5.0">−1</tspan></text>
<text x="476" y="316.7" class="pl">d</text>
<text x="578.2" y="317.9" class="t" textLength="31.6" lengthAdjust="spacingAndGlyphs">SLE-3</text>
<rect x="486.25" y="336.15" width="5.3" height="5.3" fill="#000000"/>
<text x="497.7" y="343.1" class="t" textLength="29.6" lengthAdjust="spacingAndGlyphs">30 °C</text>
<circle cx="488.9" cy="359.7" r="2.95" fill="#ff0000"/>
<text x="497.7" y="364.3" class="t" textLength="29.6" lengthAdjust="spacingAndGlyphs">40 °C</text>
<path d="M488.9 376.75l3.55 6.1h-7.1z" fill="#0000ff"/>
<text x="497.7" y="384.4" class="t" textLength="29.6" lengthAdjust="spacingAndGlyphs">55 °C</text>
<path d="M488.9 405.95l3.55 -6.1h-7.1z" fill="#ff00ff"/>
<text x="497.7" y="407" class="t" textLength="29.6" lengthAdjust="spacingAndGlyphs">70 °C</text>
<path d="M488.9 418.7l3.7 3.7l-3.7 3.7l-3.7 -3.7z" fill="#008000"/>
<text x="497.7" y="427.6" class="t" textLength="29.6" lengthAdjust="spacingAndGlyphs">85 °C</text>
<path d="M484.95 443.3l6.1 -3.55v7.1z" fill="#000080"/>
<text x="498.7" y="447.9" class="t" textLength="35.3" lengthAdjust="spacingAndGlyphs">100 °C</text>
<text x="588" y="556.2" class="t" textLength="51" lengthAdjust="spacingAndGlyphs">Scaled <tspan class="it">ω</tspan></text>
<text transform="translate(423.5 456.9) rotate(-90)" class="t" textLength="41.15" lengthAdjust="spacingAndGlyphs"><tspan class="it">X</tspan>″NMR</text>
<text transform="translate(419.7 413.35) rotate(-90)" class="t" textLength="43.4" lengthAdjust="spacingAndGlyphs">(rad/s<tspan class="sp2" dy="-4.3">2</tspan><tspan dy="4.3">)</tspan></text>
</g>
</svg></body></html>
